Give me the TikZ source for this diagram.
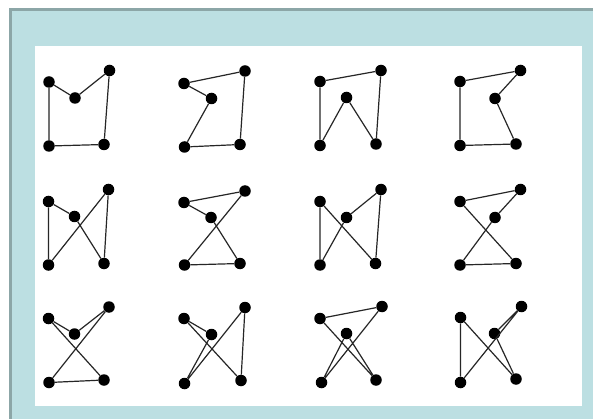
\documentclass[tikz,border=0pt]{standalone}
\begin{document}
\begin{tikzpicture}[x=1pt,y=-1pt,
  dot/.style={circle,fill=black,inner sep=0pt,minimum size=11.5pt},
  edge/.style={draw=black!85,line width=1.2pt}]
\definecolor{framebg}{HTML}{BCDFE2}
\definecolor{frameline}{HTML}{8CA6A7}
\useasboundingbox (0,0) rectangle (593,419);
\fill[framebg] (9,8) rectangle (593,419);
\draw[frameline,line width=3pt] (10.5,419) -- (10.5,9.5) -- (593,9.5);
\fill[white] (35,46) rectangle (582,406);
% Figure 1
\node[dot] (a1) at (49,82) {}; \node[dot] (b1) at (75,98) {}; \node[dot] (c1) at (109.5,70.5) {};
\node[dot] (d1) at (49,146) {}; \node[dot] (e1) at (104,144.5) {};
\draw[edge] (a1)--(b1)--(c1)--(e1)--(d1)--(a1);
% Figure 2
\node[dot] (a2) at (184,83.5) {}; \node[dot] (b2) at (211.5,98.5) {}; \node[dot] (c2) at (245,71) {};
\node[dot] (d2) at (184.5,147) {}; \node[dot] (e2) at (240,144.5) {};
\draw[edge] (a2)--(c2)--(e2)--(d2)--(b2)--(a2);
% Figure 3
\node[dot] (a3) at (320,81.5) {}; \node[dot] (b3) at (346.5,97.5) {}; \node[dot] (c3) at (381,70.5) {};
\node[dot] (d3) at (320,145.5) {}; \node[dot] (e3) at (376,144) {};
\draw[edge] (a3)--(c3)--(e3)--(b3)--(d3)--(a3);
% Figure 4
\node[dot] (a4) at (460,81.5) {}; \node[dot] (b4) at (495,98.5) {}; \node[dot] (c4) at (520.5,70.5) {};
\node[dot] (d4) at (460,145.5) {}; \node[dot] (e4) at (516,144) {};
\draw[edge] (a4)--(c4)--(b4)--(e4)--(d4)--(a4);
% Figure 5
\node[dot] (a5) at (48.5,201.5) {}; \node[dot] (b5) at (74.5,216.5) {}; \node[dot] (c5) at (108.5,189.5) {};
\node[dot] (d5) at (48.5,265) {}; \node[dot] (e5) at (104,263.5) {};
\draw[edge] (a5)--(b5)--(e5)--(c5)--(d5)--(a5);
% Figure 6
\node[dot] (a6) at (184,202.5) {}; \node[dot] (b6) at (211,217.5) {}; \node[dot] (c6) at (245,191) {};
\node[dot] (d6) at (184.5,265) {}; \node[dot] (e6) at (240,263.5) {};
\draw[edge] (a6)--(c6)--(d6)--(e6)--(b6)--(a6);
% Figure 7
\node[dot] (a7) at (320,201.5) {}; \node[dot] (b7) at (346.5,217.5) {}; \node[dot] (c7) at (381,189.5) {};
\node[dot] (d7) at (320,265) {}; \node[dot] (e7) at (375.5,263.5) {};
\draw[edge] (a7)--(d7)--(b7)--(c7)--(e7)--(a7);
% Figure 8
\node[dot] (a8) at (460,201.5) {}; \node[dot] (b8) at (495,217.5) {}; \node[dot] (c8) at (520.5,189.5) {};
\node[dot] (d8) at (460,265) {}; \node[dot] (e8) at (516,263.5) {};
\draw[edge] (a8)--(c8)--(b8)--(d8)--(e8)--(a8);
% Figure 9
\node[dot] (a9) at (48.5,318.5) {}; \node[dot] (b9) at (74.5,334) {}; \node[dot] (c9) at (109,307) {};
\node[dot] (d9) at (49,382.5) {}; \node[dot] (e9) at (104,380) {};
\draw[edge] (a9)--(b9)--(c9)--(d9)--(e9)--(a9);
% Figure 10
\node[dot] (a10) at (184,318.5) {}; \node[dot] (b10) at (211.5,334.5) {}; \node[dot] (c10) at (245,307.5) {};
\node[dot] (d10) at (184.5,383.5) {}; \node[dot] (e10) at (241,380.5) {};
\draw[edge] (a10)--(b10)--(d10)--(c10)--(e10)--(a10);
% Figure 11
\node[dot] (a11) at (320,318.5) {}; \node[dot] (b11) at (346.5,333.5) {}; \node[dot] (c11) at (382,306.5) {};
\node[dot] (d11) at (321.5,382.5) {}; \node[dot] (e11) at (376,380) {};
\draw[edge] (a11)--(c11)--(d11)--(b11)--(e11)--(a11);
% Figure 12
\node[dot] (a12) at (460.5,317.5) {}; \node[dot] (b12) at (494.5,333.5) {}; \node[dot] (c12) at (521.5,306.5) {};
\node[dot] (d12) at (460.5,382.5) {}; \node[dot] (e12) at (516,379) {};
\draw[edge] (a12)--(d12)--(c12)--(b12)--(e12)--(a12);
\end{tikzpicture}
\end{document}
